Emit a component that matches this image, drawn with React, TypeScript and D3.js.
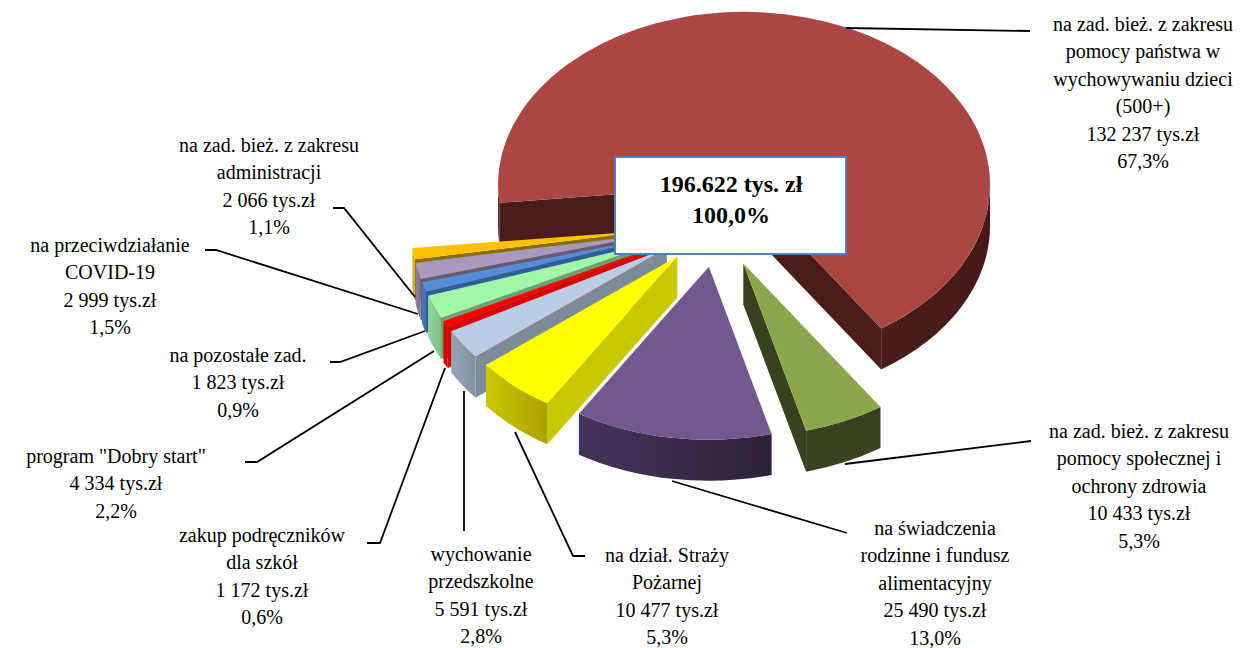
import React from "react";
import * as d3 from "d3";

// chart data, clockwise from the big slice
const categories: string[][] = [
  ["na zad. bież. z zakresu", "pomocy państwa w", "wychowywaniu dzieci", "(500+)"],
  ["na zad. bież. z zakresu", "pomocy społecznej i", "ochrony zdrowia"],
  ["na świadczenia", "rodzinne i fundusz", "alimentacyjny"],
  ["na dział. Straży", "Pożarnej"],
  ["wychowanie", "przedszkolne"],
  ["zakup podręczników", "dla szkół"],
  ['program "Dobry start"'],
  ["na pozostałe zad."],
  ["na przeciwdziałanie", "COVID-19"],
  ["na zad. bież. z zakresu", "administracji"],
];
const values = [132237, 10433, 25490, 10477, 5591, 1172, 4334, 1823, 2999, 2066];
const percents = [67.3, 5.3, 13.0, 5.3, 2.8, 0.6, 2.2, 0.9, 1.5, 1.1];
const totalLabel = ["196.622 tys. zł", "100,0%"];

const topColors = ["#AA4744", "#8BA64C", "#71588F", "#FFFF00", "#B9CDE5", "#FF0000", "#A2F7A6", "#558ED5", "#A899BE", "#FFC000"];
const sideColors = ["#4A1D1B", "#39421E", "#3C2C50", "#C8C800", "#7D8B99", "#D80000", "#6F9F72", "#2F5F96", "#665A75", "#8A6C00"];
const wallLeft = ["#4A1D1B", "#39421E", "#45345C", "#C8C800", "#94A5B8", "#E00000", "#92D898", "#4A7DBC", "#8F82A3", "#E8AE00"];
const wallRight = ["#451A18", "#39421E", "#2C2238", "#ABA300", "#83929F", "#C80000", "#80BC86", "#3F6DA6", "#7C7090", "#D8A200"];

// label layout: centre x, first line y, leader line points
const labelX = [1143, 1139, 935, 667, 481, 262, 116, 238, 110, 269];
const labelY = [31, 438, 535, 562, 561, 542, 463, 362, 252, 152];
const lineStep = 27.4;
const leaders: [number, number][][] = [
  [[846, 28], [1030, 31]],
  [[845, 464], [1031, 441]],
  [[672, 481], [847, 533]],
  [[515, 432], [573, 556], [585, 556]],
  [[464, 391], [464, 531]],
  [[445, 368], [380, 543], [367, 543]],
  [[434, 351], [257, 462], [245, 462]],
  [[425, 331], [340, 362], [330, 362]],
  [[418, 314], [216, 250], [205, 250]],
  [[415, 297], [344, 208], [333, 208]],
];

const width = 1257;
const height = 648;
const cx = 718;
const cy = 224;
const rx = 246;
const ry = 173;
const depth = 41;
const explode = 0.25;
const startDeg = 264;
const font = "'Liberation Serif', 'Times New Roman', serif";

const pl = d3.formatLocale({ decimal: ",", thousands: " ", grouping: [3], currency: ["", " zł"] });
const fmtValue = pl.format(",d");
const fmtPct = pl.format(".1f");

const slices = d3
  .pie<number>()
  .value((d) => d)
  .sort(null)
  .startAngle((startDeg * Math.PI) / 180)
  .endAngle((startDeg * Math.PI) / 180 + 2 * Math.PI)(values);

// angle 0 at the top, going clockwise, squashed to the ellipse
const px = (a: number) => rx * Math.sin(a);
const py = (a: number) => -ry * Math.cos(a);

function arcTo(a0: number, a1: number, dy = 0) {
  const large = Math.abs(a1 - a0) > Math.PI ? 1 : 0;
  const sweep = a1 > a0 ? 1 : 0;
  return `A${rx},${ry} 0 ${large} ${sweep} ${px(a1)},${py(a1) + dy}`;
}

function topPath(a0: number, a1: number) {
  return `M0,0 L${px(a0)},${py(a0)} ${arcTo(a0, a1)} Z`;
}

function edgePath(a: number) {
  return `M0,0 L${px(a)},${py(a)} L${px(a)},${py(a) + depth} L0,${depth} Z`;
}

function wallPath(a0: number, a1: number) {
  return `M${px(a0)},${py(a0)} ${arcTo(a0, a1)} L${px(a1)},${py(a1) + depth} ${arcTo(a1, a0, depth)} Z`;
}

// parts of the rim facing the viewer (between 90 and 270 degrees, also one turn on)
function frontRanges(a0: number, a1: number) {
  const rad = Math.PI / 180;
  const out: [number, number][] = [];
  [[90, 270], [450, 630]].forEach(([s, e]) => {
    const lo = Math.max(a0, s * rad);
    const hi = Math.min(a1, e * rad);
    if (hi > lo) out.push([lo, hi]);
  });
  return out;
}

// back to front, big slice first, then round the left side
const drawOrder = [0, 9, 8, 7, 6, 5, 4, 3, 2, 1];

function Slice({ i }: { i: number }) {
  const s = slices[i];
  const mid = (s.startAngle + s.endAngle) / 2;
  const ox = cx + explode * px(mid);
  const oy = cy + explode * py(mid);
  const showStart = Math.sin(s.startAngle) < 0;
  const showEnd = Math.sin(s.endAngle) > 0;
  return (
    <g transform={`translate(${ox},${oy})`}>
      {showStart && <path d={edgePath(s.startAngle)} fill={sideColors[i]} />}
      {showEnd && <path d={edgePath(s.endAngle)} fill={sideColors[i]} />}
      {frontRanges(s.startAngle, s.endAngle).map(([a, b], k) => (
        <path key={k} d={wallPath(a, b)} fill={`url(#wall${i})`} />
      ))}
      <path d={topPath(s.startAngle, s.endAngle)} fill={topColors[i]} />
    </g>
  );
}

export default function App() {
  const leaderLine = d3.line();
  return (
    <svg
      width={width}
      height={height}
      style={{ position: "absolute", left: 0, top: 0, background: "#fff" }}
      fontFamily={font}
    >
      <defs>
        {values.map((_, i) => (
          <linearGradient key={i} id={`wall${i}`}>
            <stop offset="0" stopColor={wallLeft[i]} />
            <stop offset="1" stopColor={wallRight[i]} />
          </linearGradient>
        ))}
      </defs>

      {drawOrder.map((i) => (
        <Slice key={i} i={i} />
      ))}

      {leaders.map((pts, i) => (
        <path key={i} d={leaderLine(pts) as string} fill="none" stroke="#000" strokeWidth={1.8} />
      ))}

      {categories.map((lines, i) => {
        const all = [...lines, `${fmtValue(values[i])} tys.zł`, `${fmtPct(percents[i])}%`];
        return (
          <text key={i} fontSize={20} fill="#000" textAnchor="middle">
            {all.map((t, k) => (
              <tspan key={k} x={labelX[i]} y={labelY[i] + k * lineStep}>
                {t}
              </tspan>
            ))}
          </text>
        );
      })}

      <rect x={615} y={157} width={231} height={97} fill="#fff" stroke="#4F81BD" strokeWidth={2} />
      <text fontSize={24} fontWeight="bold" textAnchor="middle" fill="#000">
        {totalLabel.map((t, k) => (
          <tspan key={k} x={731} y={192 + k * 31}>
            {t}
          </tspan>
        ))}
      </text>
    </svg>
  );
}
